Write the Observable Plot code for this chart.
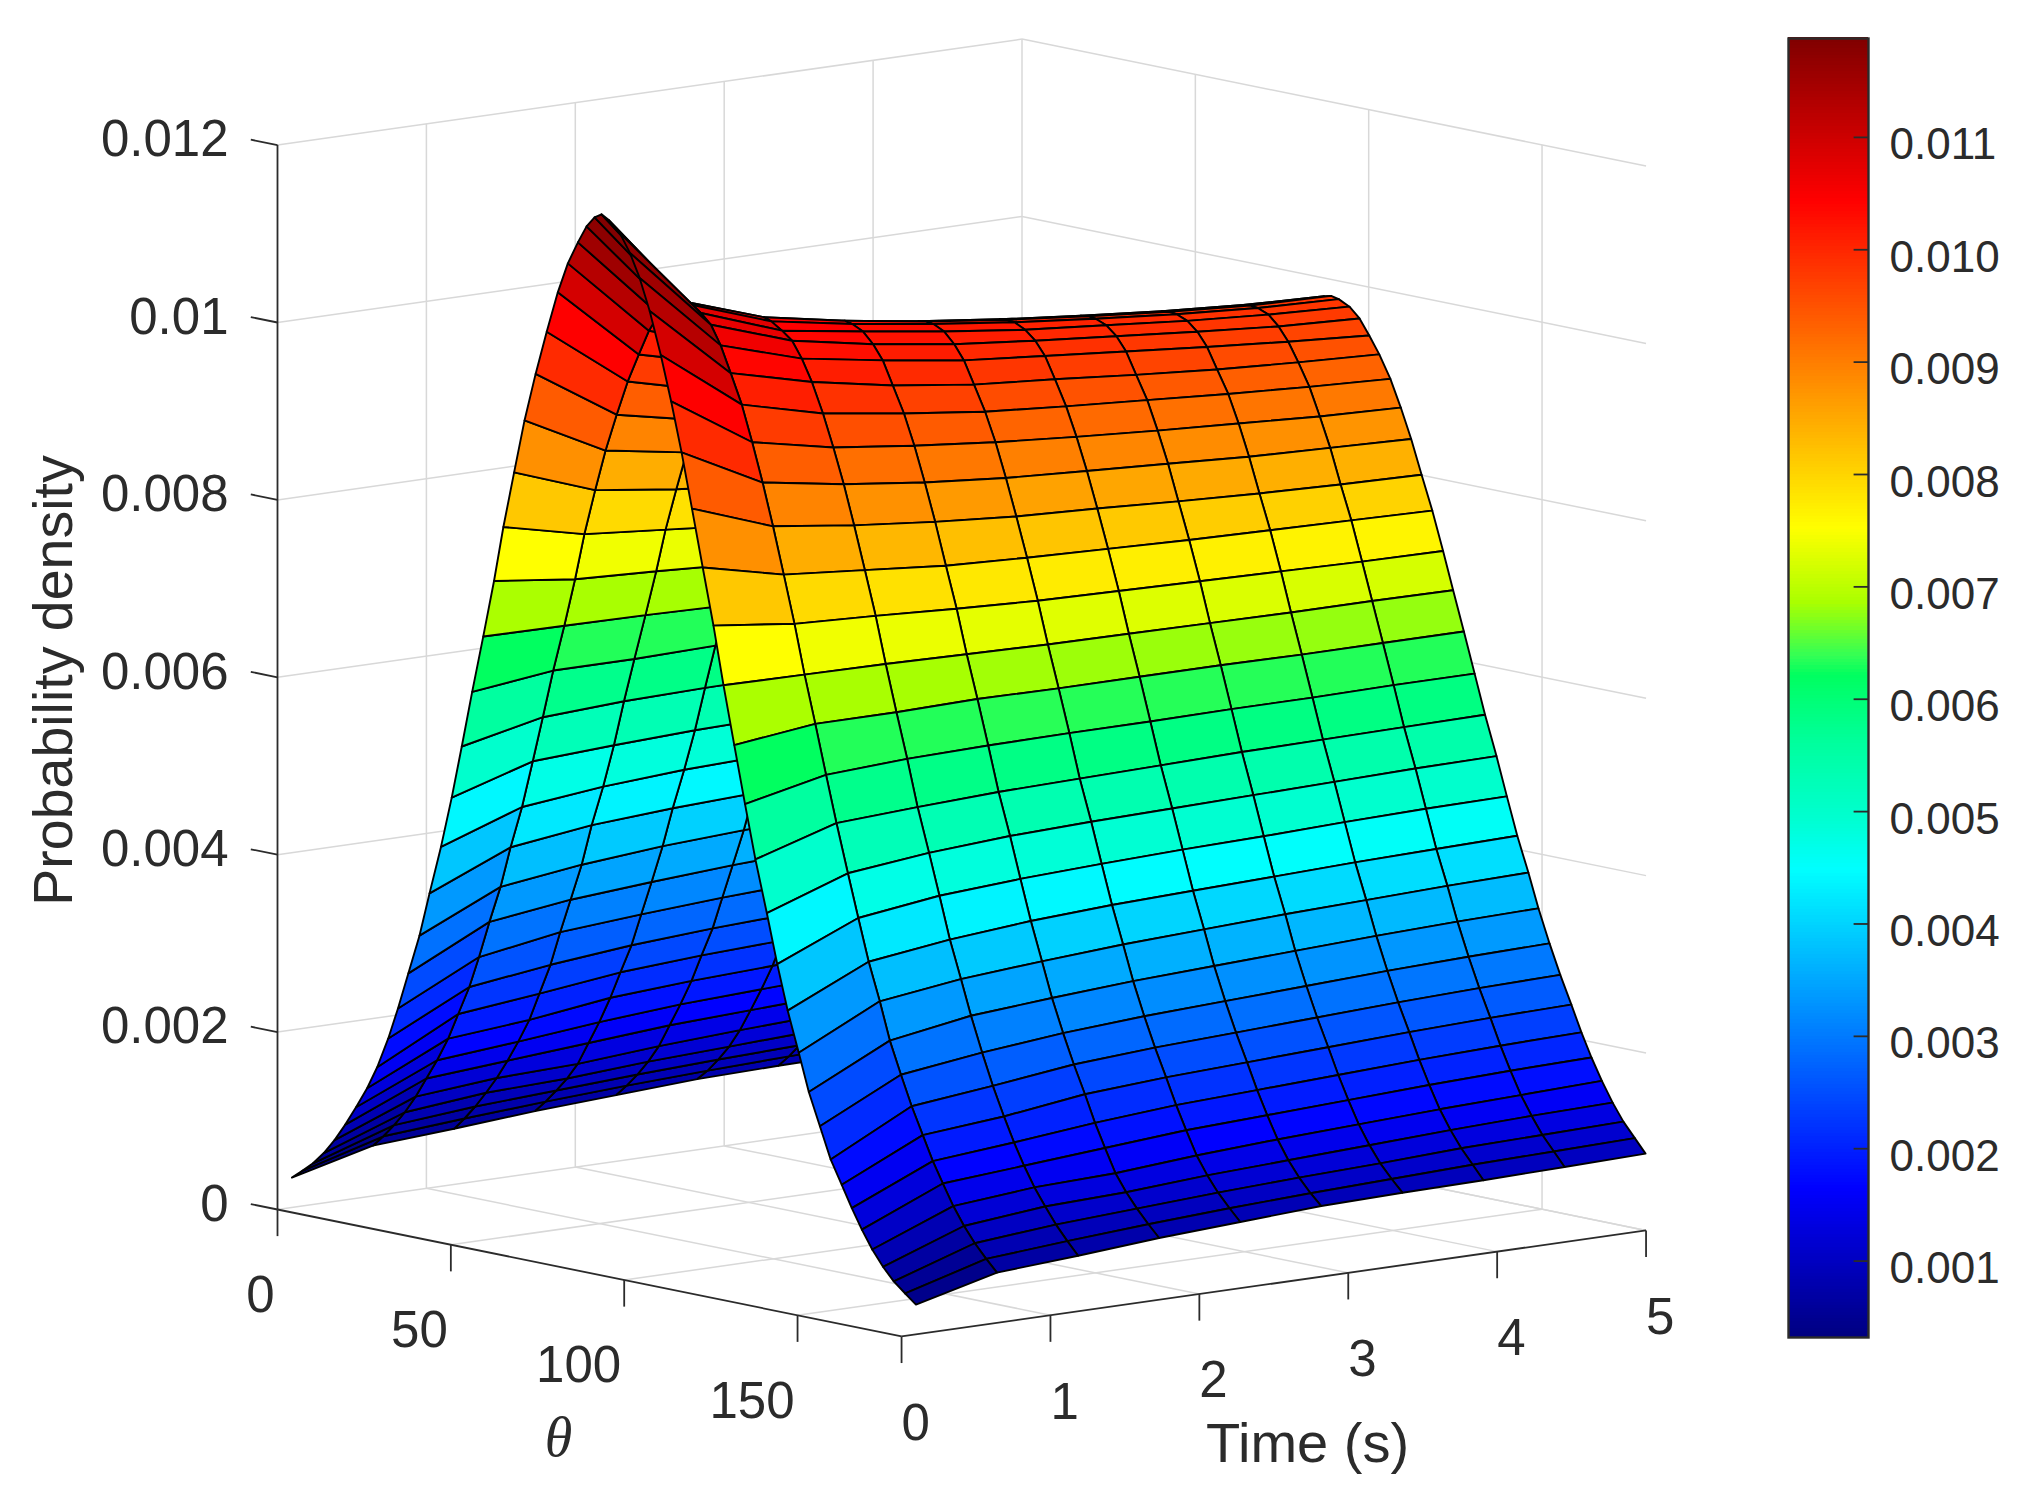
<!DOCTYPE html>
<html>
<head>
<meta charset="utf-8">
<script src="https://cdn.jsdelivr.net/npm/d3@7"></script>
<script src="https://cdn.jsdelivr.net/npm/@observablehq/plot@0.6"></script>
<style>
html,body{margin:0;padding:0;background:#fff}
#row{display:flex;width:2040px;height:1497px}
#row svg{flex:none;display:block;max-width:none}
</style>
</head>
<body>
<div id="row"></div>
<script>
// Axis ticks and limits
const timeTicks = [0, 1, 2, 3, 4, 5];
const thetaTicks = [0, 50, 100, 150];
const thetaMax = 180;
const densityTicks = [0, 0.002, 0.004, 0.006, 0.008, 0.01, 0.012];
const barTicks = [0.001, 0.002, 0.003, 0.004, 0.005, 0.006, 0.007, 0.008, 0.009, 0.010, 0.011];
const barDomain = [0.00032, 0.01188];

// Colormap
const stopAt = [0, 0.115, 0.36, 0.40, 0.455, 0.51, 0.525, 0.566, 0.623, 0.875, 1];
const stopColor = ["#000080", "#0000ff", "#00ffff", "#00ffd0", "#00ffa0", "#00ff60", "#33ff55", "#aaff00", "#ffff00", "#ff0000", "#800000"];

// Surface grid lines
const timeNodes = [0.1, 0.644, 1.189, 1.733, 2.278, 2.822, 3.367, 3.911, 4.456, 5];
const thetaNodes = [0, 3, 6.1, 9.2, 12.3, 15.4, 18.5, 21.7, 24.6, 27.8, 30.6, 33.6, 36.8, 39.7, 43, 46.1, 49, 52, 55.2, 58.3, 61, 64.1, 67.1, 70.3, 73.5, 76.7, 79.6, 82.5, 85, 87.3, 89.3,
  91.5, 94.6, 97.5, 100.3, 103.2, 106.4, 109.4, 112.4, 115.4, 118.5, 121.6, 124.5, 127.6, 130.7, 133.7, 137, 140, 143, 146.2, 149.1, 152.3, 155.4, 158.6, 161.5, 164.4, 167.4, 170.5, 173.6, 176.9, 180];

// Density along each time line, from the edge of the range to the ridge (the surface is mirrored about the ridge)
const d01 = [.00033,.00043,.00054,.00068,.00085,.00105,.00127,.00151,.00177,.00212,.00248,.0029,.00335,.00385,.0044,.00498,.00558,.00622,.00687,.00752,.00815,.00879,.0094,.00995,.01045,.01092,.01127,.01153,.01173,.01185,.0119];
const d02 = [.00056,.00069,.00084,.00101,.00121,.00144,.00167,.00194,.00224,.00257,.00293,.00335,.00377,.00424,.00472,.00526,.00578,.00633,.00686,.00741,.00794,.00846,.00893,.00936,.00976,.01009,.01038,.01059,.0107,.01077,.01079];
const d03 = [.00062,.00076,.00092,.0011,.00129,.00151,.00175,.00202,.00234,.00269,.00308,.00347,.00389,.00436,.00482,.00531,.00583,.00633,.00685,.00737,.00786,.00834,.00878,.00917,.00953,.00986,.0101,.01028,.01037,.01045,.01048];
const d04 = [.00069,.00082,.00097,.00113,.00132,.00158,.00184,.00214,.00245,.00278,.00315,.00354,.00397,.00442,.00488,.00535,.00585,.00635,.00683,.00732,.00778,.00825,.00867,.00906,.0094,.00969,.00995,.01011,.01023,.01029,.01031];
const d05 = [.00074,.00087,.00102,.00119,.00139,.00165,.00191,.0022,.00251,.00284,.00321,.0036,.00402,.00446,.00491,.00537,.00586,.00634,.00681,.00728,.00774,.00818,.00859,.00897,.00929,.00957,.00982,.00998,.0101,.01016,.01017];
const d06 = [.00079,.00091,.00106,.00123,.00144,.00169,.00195,.00224,.00255,.00288,.00325,.00364,.00405,.00449,.00493,.00539,.00586,.00634,.0068,.00726,.00771,.00814,.00854,.0089,.00922,.0095,.00974,.00989,.00999,.01005,.01006];
const d07 = [.00081,.00094,.00109,.00127,.00148,.00173,.00199,.00228,.00259,.00292,.00329,.00368,.00408,.00451,.00495,.00541,.00587,.00634,.00679,.00724,.00768,.00809,.00849,.00884,.00916,.00942,.00966,.00981,.00991,.00996,.00997];
const d08 = [.00082,.00097,.00113,.00131,.00152,.00177,.00203,.00232,.00263,.00296,.00333,.00371,.00411,.00454,.00497,.00542,.00587,.00633,.00678,.00722,.00766,.00805,.00844,.00879,.0091,.00935,.00958,.00973,.00983,.00988,.00989];
const d09 = [.00084,.00099,.00115,.00134,.00155,.0018,.00206,.00235,.00266,.00299,.00336,.00374,.00413,.00456,.00499,.00543,.00588,.00633,.00678,.0072,.00764,.00802,.00841,.00874,.00905,.0093,.00951,.00966,.00977,.00982,.00983];
const d10 = [.00086,.00101,.00117,.00136,.00158,.00182,.00208,.00237,.00268,.00301,.00338,.00376,.00415,.00457,.005,.00544,.00588,.00633,.00677,.00719,.00762,.008,.00838,.00871,.00901,.00926,.00945,.00962,.00973,.00979,.00981];
const columns = [d01, d02, d03, d04, d05, d06, d07, d08, d09, d10];
const densityAt = (i, j) => columns[i][j <= 30 ? j : 60 - j];

// Oblique 3D view: x is read in time units, y in density units
const thetaToTime = 0.023284;
const timeToDensity = 0.000239;
const thetaToDensity = -0.00000795;
const px = (theta, t) => t + theta * thetaToTime;
const py = (theta, t, z) => z + t * timeToDensity + theta * thetaToDensity;
const seg = (a, b) => ({x1: px(a[0], a[1]), y1: py(a[0], a[1], a[2]), x2: px(b[0], b[1]), y2: py(b[0], b[1], b[2])});

const zTop = densityTicks[densityTicks.length - 1];
const tEnd = timeTicks[timeTicks.length - 1];

// Surface facets, painted from the far corner to the near corner
const facets = [];
thetaNodes.slice(0, -1).forEach((th0, j) => {
  for (let i = timeNodes.length - 2; i >= 0; --i) {
    const th1 = thetaNodes[j + 1], t0 = timeNodes[i], t1 = timeNodes[i + 1];
    const id = j * 100 + i, value = densityAt(i, j);
    facets.push({id, value,
      x1: px(th0, t0), y1: py(th0, t0, densityAt(i, j)),
      x2: px(th1, t0), y2: py(th1, t0, densityAt(i, j + 1))});
    facets.push({id, value,
      x1: px(th0, t1), y1: py(th0, t1, densityAt(i + 1, j)),
      x2: px(th1, t1), y2: py(th1, t1, densityAt(i + 1, j + 1))});
  }
});

// Back walls and floor grid
const grid = [
  ...densityTicks.map(z => seg([0, 0, z], [0, tEnd, z])),
  ...densityTicks.map(z => seg([0, tEnd, z], [thetaMax, tEnd, z])),
  ...timeTicks.slice(1).map(t => seg([0, t, 0], [0, t, zTop])),
  ...thetaTicks.slice(1).map(th => seg([th, tEnd, 0], [th, tEnd, zTop])),
  ...thetaTicks.slice(1).map(th => seg([th, 0, 0], [th, tEnd, 0])),
  ...timeTicks.slice(1).map(t => seg([0, t, 0], [thetaMax, t, 0]))
];

const tickDrop = -0.0003;
const axes = [
  seg([0, 0, 0], [0, 0, zTop]),
  seg([0, 0, 0], [thetaMax, 0, 0]),
  seg([thetaMax, 0, 0], [thetaMax, tEnd, 0]),
  ...densityTicks.map(z => seg([-7.7, 0, z], [0, 0, z])),
  ...thetaTicks.map(th => seg([th, 0, 0], [th, 0, tickDrop])),
  ...timeTicks.map(t => seg([thetaMax, t, 0], [thetaMax, t, tickDrop]))
];

const colormap = d3.scaleLinear().domain(stopAt).range(stopColor).interpolate(d3.interpolateRgb).clamp(true);
const cmap = u => colormap(u);

const sans = "'Liberation Sans', Arial, sans-serif";
const ink = "#2b2b2b";

const main = Plot.plot({
  width: 1740, height: 1497,
  margin: 0,
  style: {background: "transparent", fontFamily: sans},
  x: {axis: null, domain: [0, tEnd], range: [277, 1021.5]},
  y: {axis: null, domain: [0, zTop], range: [1209, 144.6]},
  color: {type: "linear", domain: barDomain, interpolate: cmap, clamp: true},
  marks: [
    Plot.link(grid, {x1: "x1", y1: "y1", x2: "x2", y2: "y2", stroke: "#d8d8d8", strokeWidth: 1.5}),
    Plot.link(axes, {x1: "x1", y1: "y1", x2: "x2", y2: "y2", stroke: ink, strokeWidth: 1.8}),
    Plot.area(facets, {x1: "x1", y1: "y1", x2: "x2", y2: "y2", z: "id", fill: "value", stroke: "#000", strokeWidth: 1.9, strokeLinejoin: "round"}),
    Plot.text(densityTicks, {x: () => px(0, 0), y: z => py(0, 0, z), text: z => String(z), textAnchor: "end", dx: -49, dy: -5, fontSize: 51, fill: ink}),
    Plot.text(thetaTicks, {x: th => px(th, 0), y: th => py(th, 0, 0), text: th => String(th), textAnchor: "end", dx: -3, dy: 86, fontSize: 51, fill: ink}),
    Plot.text(timeTicks, {x: t => px(thetaMax, t), y: t => py(thetaMax, t, 0), text: t => String(t), textAnchor: "start", dx: 0, dy: 87, fontSize: 51, fill: ink}),
    Plot.text(["Time (s)"], {frameAnchor: "top-left", dx: 1307, dy: 1422, textAnchor: "middle", fontSize: 56, fill: ink}),
    Plot.text(["θ"], {frameAnchor: "top-left", dx: 558, dy: 1416, textAnchor: "middle", fontSize: 56, fontFamily: "'Liberation Serif', serif", fontStyle: "italic", fill: ink}),
    Plot.text(["Probability density"], {frameAnchor: "top-left", dx: 32, dy: 680, textAnchor: "middle", rotate: -90, fontSize: 55.5, fill: ink})
  ]
});

const steps = d3.range(400).map(k => ({
  y1: barDomain[0] + (barDomain[1] - barDomain[0]) * k / 400,
  y2: barDomain[0] + (barDomain[1] - barDomain[0]) * (k + 1) / 400
}));

const bar = Plot.plot({
  width: 300, height: 1497,
  marginLeft: 48, marginRight: 172, marginTop: 38, marginBottom: 160,
  style: {background: "transparent", fontFamily: sans},
  x: {axis: null, domain: [0, 1]},
  y: {axis: null, domain: barDomain},
  color: {type: "linear", domain: barDomain, interpolate: cmap, clamp: true},
  marks: [
    Plot.rect(steps, {x1: 0, x2: 1, y1: "y1", y2: "y2", fill: d => (d.y1 + d.y2) / 2, insetTop: -0.6, insetBottom: -0.6, shapeRendering: "crispEdges"}),
    Plot.ruleY(barTicks, {x1: 0.82, x2: 1, stroke: ink, strokeWidth: 1.8}),
    Plot.frame({stroke: ink, strokeWidth: 2.4}),
    Plot.text(barTicks, {x: 1, y: d => d, text: d => d.toFixed(3), textAnchor: "start", dx: 21, dy: 8, fontSize: 44, fill: ink})
  ]
});

document.getElementById("row").append(main, bar);
</script>
</body>
</html>
